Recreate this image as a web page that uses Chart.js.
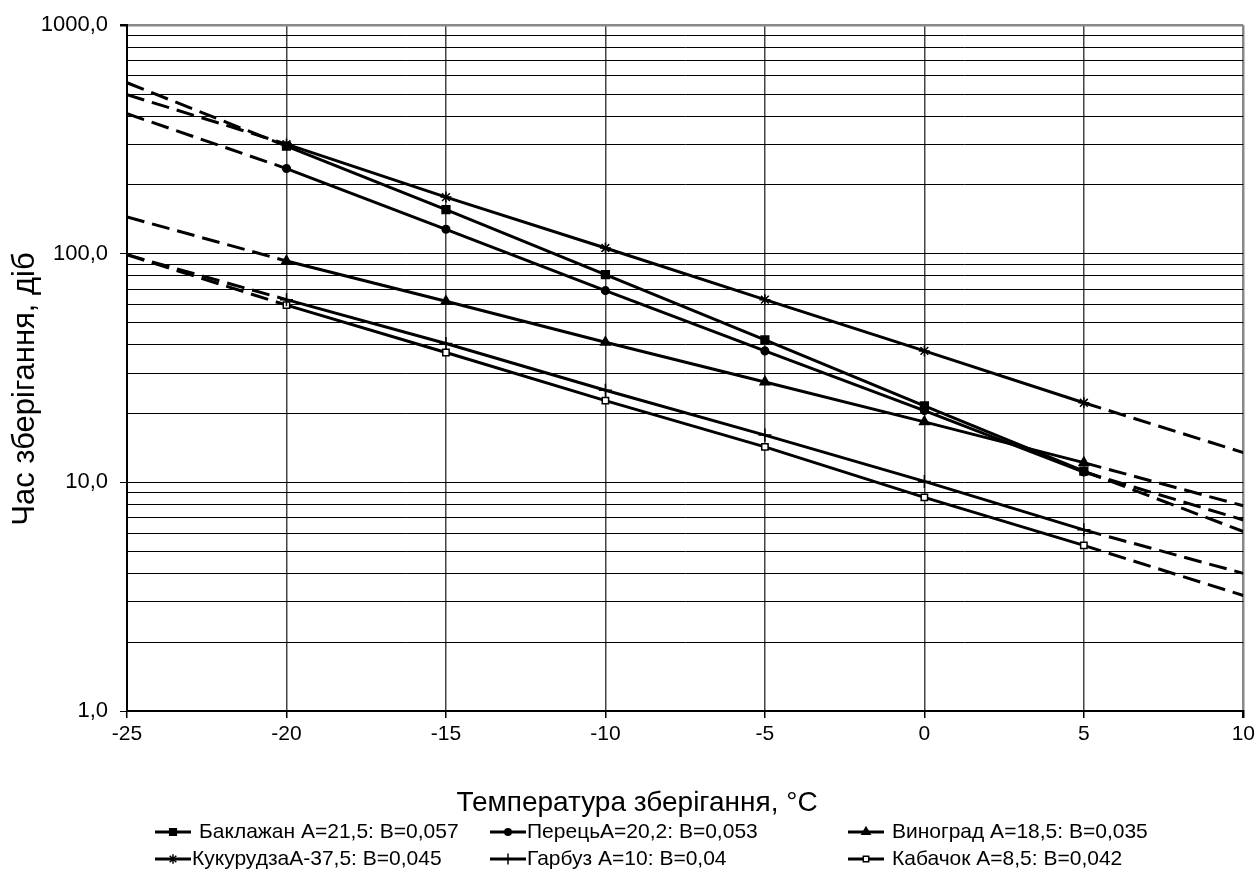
<!DOCTYPE html>
<html>
<head>
<meta charset="utf-8">
<script src="https://cdn.jsdelivr.net/npm/chart.js@4.4.1/dist/chart.umd.min.js"></script>
<style>
  html, body { margin: 0; padding: 0; background: #fff; }
  #wrap { width: 1259px; height: 876px; position: relative; }
</style>
</head>
<body>
<div id="wrap"><canvas id="chart"></canvas></div>
<script>
// measured points, days of storage at each temperature
const temps = [-20, -15, -10, -5, 0, 5];
const baklazhan = [296, 156, 81, 42, 21.6, 11.2];
const perets = [236, 128, 69, 37.6, 20.6, 11.1];
const vynohrad = [93, 62, 41, 27.5, 18.4, 12.2];
const kukurudza = [302, 177, 106, 63, 37.6, 22.3];
const harbuz = [63, 40.5, 25.3, 16.1, 10.1, 6.2];
const kabachok = [59.6, 37, 22.8, 14.3, 8.6, 5.3];

// dashed trend extensions: value at -25 and at 10
const trendX = [-25, 10];
const trendBaklazhan = [560, 6.1];
const trendPerets = [410, 6.85];
const trendVynohrad = [145, 7.9];
const trendKukurudza = [497, 13.5];
const trendHarbuz = [99, 4.0];
const trendKabachok = [99, 3.2];

const seriesLabels = [
  "Баклажан A=21,5: B=0,057",
  "ПерецьA=20,2: B=0,053",
  "Виноград A=18,5: B=0,035",
  "КукурудзаA-37,5: B=0,045",
  "Гарбуз A=10: B=0,04",
  "Кабачок A=8,5: B=0,042",
];

const xTicks = [-25, -20, -15, -10, -5, 0, 5, 10];
const yMajor = [1, 10, 100, 1000];
const yMinorSteps = [2, 3, 4, 5, 6, 7, 8, 9];

const xTitle = "Температура зберігання, °C";
const yTitle = "Час зберігання, діб";

const FONT = "'Liberation Sans', Arial, sans-serif";

const markers = [
  { pointStyle: "rect", radius: 5.5, fill: "#000" },
  { pointStyle: "circle", radius: 3.8, fill: "#000" },
  { pointStyle: "triangle", radius: 5.5, fill: "#000" },
  { pointStyle: "star", radius: 5.5, fill: "#000" },
  { pointStyle: "cross", radius: 6.5, fill: "#000" },
  { pointStyle: "rect", radius: 4.5, fill: "#fff" },
];

const measured = [baklazhan, perets, vynohrad, kukurudza, harbuz, kabachok];
const trends = [trendBaklazhan, trendPerets, trendVynohrad, trendKukurudza, trendHarbuz, trendKabachok];

function solidDataset(values, i) {
  const m = markers[i];
  return {
    label: seriesLabels[i],
    data: temps.map((t, k) => ({ x: t, y: values[k] })),
    borderColor: "#000",
    borderWidth: 3,
    pointStyle: m.pointStyle,
    pointRadius: m.radius,
    pointBackgroundColor: m.fill,
    pointBorderColor: "#000",
    pointBorderWidth: 1.5,
    order: 0,
  };
}

function trendDataset(ends, values, i) {
  return {
    label: "trend " + i,
    data: [
      { x: trendX[0], y: ends[0] },
      { x: temps[0], y: values[0] },
      { x: (temps[0] + temps[temps.length - 1]) / 2, y: null },
      { x: temps[temps.length - 1], y: values[values.length - 1] },
      { x: trendX[1], y: ends[1] },
    ],
    borderColor: "#000",
    borderWidth: 3,
    borderDash: [18, 8],
    pointRadius: 0,
    spanGaps: false,
    order: 1,
  };
}

// axis titles and the two-row legend, placed like the original sheet
const labelsPlugin = {
  id: "sheetLabels",
  afterDraw(chart) {
    const ctx = chart.ctx;
    ctx.save();
    ctx.fillStyle = "#000";
    ctx.textAlign = "center";
    ctx.textBaseline = "middle";
    ctx.font = "28px " + FONT;
    ctx.fillText(xTitle, 637, 803);

    ctx.save();
    ctx.translate(25, 389);
    ctx.rotate(-Math.PI / 2);
    ctx.font = "31px " + FONT;
    ctx.fillText(yTitle, 0, 0);
    ctx.restore();

    const cols = [155, 490, 848];
    const rows = [832, 859];
    ctx.font = "21px " + FONT;
    ctx.textAlign = "left";
    seriesLabels.forEach((label, i) => {
      const x = cols[i % 3];
      const y = rows[Math.floor(i / 3)];
      ctx.strokeStyle = "#000";
      ctx.lineWidth = 3;
      ctx.setLineDash([]);
      ctx.beginPath();
      ctx.moveTo(x, y);
      ctx.lineTo(x + 36, y);
      ctx.stroke();
      const m = markers[i];
      ctx.fillStyle = m.fill;
      ctx.lineWidth = 1.5;
      Chart.helpers.drawPoint(ctx, { pointStyle: m.pointStyle, radius: m.radius * 0.85, borderWidth: 1.5, rotation: 0 }, x + 18, y);
      ctx.fillStyle = "#000";
      const gap = (i === 0 || i === 2 || i === 5) ? 44 : 37;
      ctx.fillText(label, x + gap, y);
    });
    ctx.restore();
  },
};

const datasets = [
  ...measured.map((v, i) => solidDataset(v, i)),
  ...trends.map((e, i) => trendDataset(e, measured[i], i)),
];

new Chart(document.getElementById("chart"), {
  type: "line",
  data: { datasets },
  options: {
    responsive: true,
    maintainAspectRatio: false,
    animation: false,
    layout: { padding: { left: 0, right: 15, top: 25, bottom: 0 } },
    plugins: { legend: { display: false }, tooltip: { enabled: false } },
    scales: {
      x: {
        type: "linear",
        min: -25,
        max: 10,
        afterFit(scale) { scale.height = 165; },
        afterBuildTicks(scale) { scale.ticks = xTicks.map((v) => ({ value: v })); },
        ticks: {
          color: "#000",
          font: { family: FONT, size: 21 },
          padding: 4,
          callback: (v) => String(v),
        },
        grid: {
          color: (c) => (c.tick && c.tick.value === 10 ? "#888" : "#444"),
          lineWidth: (c) => (c.tick && c.tick.value === 10 ? 2.5 : 1.5),
          tickLength: 7,
          tickColor: "#000",
        },
        border: { color: "#000", width: 2 },
      },
      y: {
        type: "logarithmic",
        min: 1,
        max: 1000,
        afterFit(scale) { scale.width = 127; },
        afterBuildTicks(scale) {
          const ticks = [];
          yMajor.slice(0, 3).forEach((d) => {
            ticks.push({ value: d });
            yMinorSteps.forEach((m) => ticks.push({ value: m * d }));
          });
          ticks.push({ value: yMajor[3] });
          scale.ticks = ticks;
        },
        ticks: {
          autoSkip: false,
          color: "#000",
          font: { family: FONT, size: 22 },
          padding: 12,
          callback: (v) => (yMajor.includes(v) ? v.toFixed(1).replace(".", ",") : ""),
        },
        grid: {
          color: (c) => (c.tick && c.tick.value === 1000 ? "#888" : "#000"),
          lineWidth: (c) => (c.tick && c.tick.value === 1000 ? 2.5 : 1),
          tickLength: 7,
          tickColor: (c) => (c.tick && yMajor.includes(c.tick.value) ? "#000" : "rgba(0,0,0,0)"),
        },
        border: { color: "#000", width: 2 },
      },
    },
  },
  plugins: [labelsPlugin],
});
</script>
</body>
</html>
